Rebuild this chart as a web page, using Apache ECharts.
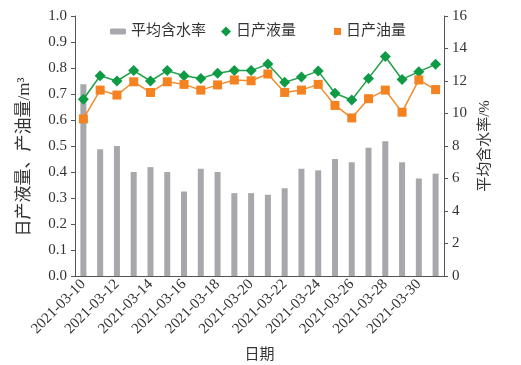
<!DOCTYPE html>
<html>
<head>
<meta charset="utf-8">
<script src="https://cdn.jsdelivr.net/npm/echarts@6/dist/echarts.min.js"></script>
<style>html,body{margin:0;padding:0;background:#fff;}#c{width:521px;height:365px;}</style>
</head>
<body>
<div id="c"></div>
<script>
var dates = ['2021-03-10','2021-03-11','2021-03-12','2021-03-13','2021-03-14','2021-03-15','2021-03-16','2021-03-17','2021-03-18','2021-03-19','2021-03-20','2021-03-21','2021-03-22','2021-03-23','2021-03-24','2021-03-25','2021-03-26','2021-03-27','2021-03-28','2021-03-29','2021-03-30','2021-03-31'];
var waterCut = [11.8, 7.8, 8.0, 6.4, 6.7, 6.4, 5.2, 6.6, 6.4, 5.1, 5.1, 5.0, 5.4, 6.6, 6.5, 7.2, 7.0, 7.9, 8.3, 7.0, 6.0, 6.3];
var liquid = [0.68, 0.77, 0.75, 0.79, 0.75, 0.79, 0.77, 0.76, 0.78, 0.79, 0.79, 0.815, 0.745, 0.765, 0.788, 0.703, 0.677, 0.76, 0.844, 0.756, 0.786, 0.814];
var oil = [0.604, 0.715, 0.696, 0.747, 0.706, 0.747, 0.737, 0.715, 0.735, 0.754, 0.751, 0.777, 0.706, 0.715, 0.737, 0.656, 0.608, 0.682, 0.715, 0.63, 0.754, 0.717];
var leftTicks = [0, 0.1, 0.2, 0.3, 0.4, 0.5, 0.6, 0.7, 0.8, 0.9, 1.0];
var rightTicks = [0, 2, 4, 6, 8, 10, 12, 14, 16];

var serif = '"Liberation Serif", "DejaVu Serif", serif';
var cjk = '"Liberation Serif", "Noto Sans CJK SC", serif';
var axisColor = '#555';
var textColor = '#333';

var chart = echarts.init(document.getElementById('c'));
chart.setOption({
  animation: false,
  backgroundColor: '#fff',
  grid: {left: 75, right: 77, top: 16, bottom: 89, outerBoundsMode: 'none', containLabel: false},
  legend: [
    {data: ['平均含水率'], left: 105, top: 19, itemWidth: 16, itemHeight: 6, textStyle: {fontFamily: cjk, fontSize: 15, color: textColor}},
    {data: [{name: '日产液量', icon: 'diamond'}], left: 216, top: 19, itemWidth: 10, itemHeight: 10, textStyle: {fontFamily: cjk, fontSize: 15, color: textColor}},
    {data: [{name: '日产油量', icon: 'rect'}], left: 329, top: 19, itemWidth: 7, itemHeight: 7, textStyle: {fontFamily: cjk, fontSize: 15, color: textColor}}
  ],
  xAxis: {
    type: 'category',
    data: dates,
    boundaryGap: true,
    name: '日期',
    nameLocation: 'middle',
    nameGap: 72,
    nameTextStyle: {fontFamily: cjk, fontSize: 15, color: textColor},
    axisLine: {lineStyle: {color: axisColor, width: 1}},
    axisTick: {show: false},
    axisLabel: {interval: 1, rotate: 45, fontFamily: serif, fontSize: 15, color: textColor, margin: 6}
  },
  yAxis: [
    {
      type: 'value', min: leftTicks[0], max: leftTicks[leftTicks.length - 1], interval: 0.1,
      name: '日产液量、产油量/m³', nameLocation: 'middle', nameGap: 42, nameRotate: 90,
      nameTextStyle: {fontFamily: cjk, fontSize: 17, color: textColor, padding: [0, 22, 0, 0]},
      axisLine: {show: true, lineStyle: {color: axisColor}},
      axisTick: {show: true, inside: false, length: 4, lineStyle: {color: axisColor}},
      splitLine: {show: false},
      axisLabel: {formatter: function (v) { return v.toFixed(1); }, fontFamily: serif, fontSize: 15, color: textColor, margin: 8}
    },
    {
      type: 'value', min: rightTicks[0], max: rightTicks[rightTicks.length - 1], interval: 2, position: 'right',
      name: '平均含水率/%', nameLocation: 'middle', nameGap: 32, nameRotate: 90,
      nameTextStyle: {fontFamily: cjk, fontSize: 15, color: textColor},
      axisLine: {show: true, lineStyle: {color: axisColor}},
      axisTick: {show: true, inside: false, length: 4, lineStyle: {color: axisColor}},
      splitLine: {show: false},
      axisLabel: {fontFamily: serif, fontSize: 15, color: textColor, margin: 8}
    }
  ],
  series: [
    {name: '平均含水率', type: 'bar', yAxisIndex: 1, data: waterCut, barWidth: 6, itemStyle: {color: '#a7a8ab'}, z: 1},
    {name: '日产液量', type: 'line', yAxisIndex: 0, data: liquid, symbol: 'diamond', symbolSize: 11,
     lineStyle: {color: '#1fa049', width: 1.5}, itemStyle: {color: '#0f9a45'}, z: 3},
    {name: '日产油量', type: 'line', yAxisIndex: 0, data: oil, symbol: 'rect', symbolSize: 9,
     lineStyle: {color: '#f58a2a', width: 1.5}, itemStyle: {color: '#f58220'}, z: 3}
  ]
});
</script>
</body>
</html>
